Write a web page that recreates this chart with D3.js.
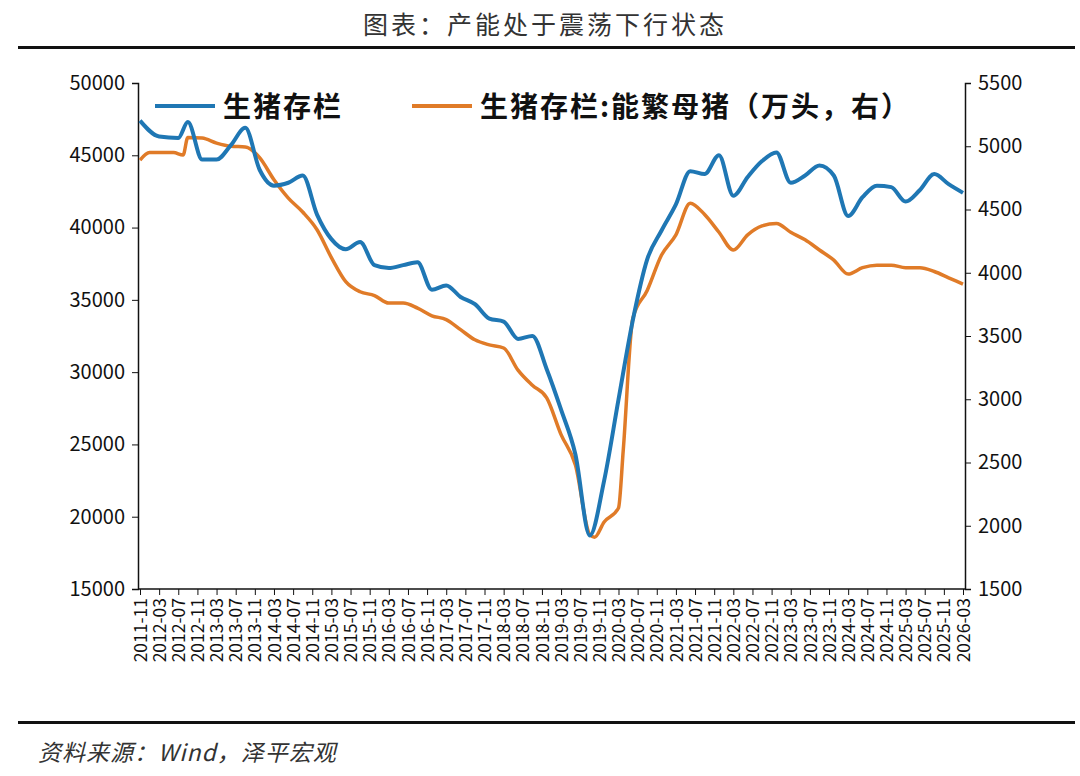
<!DOCTYPE html><html><head><meta charset="utf-8"><script src="https://cdn.jsdelivr.net/npm/d3@7"></script>
<style>body{margin:0;background:#fff}text{font-family:"Noto Sans CJK SC","Liberation Sans",sans-serif}</style></head><body><svg id="c" width="1080" height="776"></svg><script>
const blueDates=["2011-11","2012-03","2012-07","2012-09","2012-12","2013-03","2013-06","2013-09","2013-12","2014-03","2014-06","2014-09","2014-12","2015-03","2015-06","2015-09","2015-12","2016-03","2016-06","2016-09","2016-12","2017-03","2017-06","2017-09","2017-12","2018-03","2018-06","2018-09","2018-12","2019-03","2019-06","2019-09","2019-12","2020-03","2020-06","2020-09","2020-12","2021-03","2021-06","2021-09","2021-12","2022-03","2022-06","2022-09","2022-12","2023-03","2023-06","2023-09","2023-12","2024-03","2024-06","2024-09","2024-12","2025-03","2025-06","2025-09","2025-12","2026-03"];
const blueVals=[47400,46300,46200,47300,44700,44700,45700,46900,44000,42900,43100,43600,40900,39200,38500,39000,37400,37200,37400,37600,35700,36000,35200,34700,33700,33500,32300,32500,30200,27400,24300,18700,22500,28100,33600,37800,39800,41600,43900,43700,45000,42200,43500,44600,45200,43100,43600,44300,43600,40800,42100,42900,42800,41800,42600,43700,43000,42400];
const orangeDates=["2011-11","2012-01","2012-06","2012-08","2012-09","2012-12","2013-03","2013-06","2013-09","2013-12","2014-03","2014-06","2014-09","2014-12","2015-03","2015-06","2015-09","2015-12","2016-03","2016-06","2016-09","2016-12","2017-03","2017-06","2017-09","2017-12","2018-03","2018-06","2018-09","2018-12","2019-03","2019-06","2019-09","2019-10","2019-12","2020-03","2020-04","2020-06","2020-09","2020-12","2021-03","2021-06","2021-09","2021-12","2022-03","2022-06","2022-09","2022-12","2023-03","2023-06","2023-09","2023-12","2024-03","2024-06","2024-09","2024-12","2025-03","2025-06","2025-09","2025-12","2026-03"];
const orangeVals=[4890,4950,4950,4930,5070,5065,5025,5000,4995,4910,4735,4590,4480,4340,4120,3930,3850,3820,3760,3760,3720,3660,3630,3550,3470,3430,3405,3230,3110,3010,2720,2480,1930,1910,2030,2140,2600,3640,3860,4140,4300,4550,4460,4320,4180,4300,4370,4390,4320,4260,4180,4100,3990,4040,4060,4060,4040,4040,4010,3960,3910];
const leftTicks=[15000,20000,25000,30000,35000,40000,45000,50000];
const rightTicks=[1500,2000,2500,3000,3500,4000,4500,5000,5500];
const title="图表：产能处于震荡下行状态", source="资料来源：Wind，泽平宏观";
const seriesNames=["生猪存栏","生猪存栏:能繁母猪（万头，右）"];

const svg=d3.select("#c");
const L=138,R=965,T=83,B=589;
const mi=s=>{const[a,b]=s.split("-").map(Number);return (a-2011)*12+b-11;};
const x=d3.scaleLinear().domain([0,172]).range([L+2,R-2]);
const yl=d3.scaleLinear().domain([15000,50000]).range([B,T]);
const yr=d3.scaleLinear().domain([1500,5500]).range([B,T]);
svg.append("text").attr("x",545).attr("y",34).attr("text-anchor","middle").attr("font-size",25).attr("fill","#333").attr("letter-spacing",3).text(title);
svg.append("rect").attr("x",18).attr("y",46).attr("width",1057).attr("height",3).attr("fill","#111");
svg.append("rect").attr("x",18).attr("y",721).attr("width",1057).attr("height",3).attr("fill","#111");
svg.append("text").attr("x",38).attr("y",761).attr("font-size",23).attr("font-style","italic").attr("fill","#333").attr("letter-spacing",1).text(source);
const ga=svg.append("g").attr("transform",`translate(${L},0)`).call(d3.axisLeft(yl).tickValues(leftTicks).tickSize(6).tickFormat(d3.format("d")));
const gr=svg.append("g").attr("transform",`translate(${R},0)`).call(d3.axisRight(yr).tickValues(rightTicks).tickSize(6).tickFormat(d3.format("d")));
[ga,gr].forEach(g=>{g.selectAll("text").attr("font-size",20).attr("fill","#111").attr("font-family","Liberation Sans");g.select(".domain").attr("stroke","#111").attr("stroke-width",1.5);g.selectAll("line").attr("stroke","#111");});
ga.selectAll("text").attr("dx",-4);gr.selectAll("text").attr("dx",4);
const xt=[];for(let m=0;m<=172;m+=4)xt.push(m);
const lab=m=>{const y=2011+Math.floor((m+10)/12),mo=(m+10)%12+1;return y+"-"+String(mo).padStart(2,"0");};
const gx=svg.append("g").attr("transform",`translate(0,${B})`).call(d3.axisBottom(x).tickValues(xt).tickSize(6).tickFormat(lab));
gx.select(".domain").attr("d",`M${L},0H${R}`).attr("stroke","#111").attr("stroke-width",1.5);
gx.selectAll("line").attr("stroke","#111");
gx.selectAll("text").attr("font-size",17.5).attr("fill","#111").attr("font-family","Liberation Sans").attr("transform","rotate(-90)").attr("text-anchor","end").attr("x",-9).attr("y",0).attr("dy","0.35em");
const line=(ys)=>d3.line().x(d=>x(mi(d[0]))).y(d=>ys(d[1])).curve(d3.curveMonotoneX);
svg.append("path").datum(orangeDates.map((d,i)=>[d,orangeVals[i]])).attr("d",line(yr)).attr("fill","none").attr("stroke","#E07B28").attr("stroke-width",3.5);
svg.append("path").datum(blueDates.map((d,i)=>[d,blueVals[i]])).attr("d",line(yl)).attr("fill","none").attr("stroke","#1F77B4").attr("stroke-width",4);
const lg=svg.append("g");
[[155,"#1F77B4",seriesNames[0]],[412,"#E07B28",seriesNames[1]]].forEach(([lx,c,t])=>{
 lg.append("line").attr("x1",lx).attr("x2",lx+60).attr("y1",106).attr("y2",106).attr("stroke",c).attr("stroke-width",4);
 lg.append("text").attr("x",lx+68).attr("y",117).attr("font-size",28).attr("font-weight","bold").attr("fill","#111").attr("letter-spacing",2).text(t);});
</script></body></html>
